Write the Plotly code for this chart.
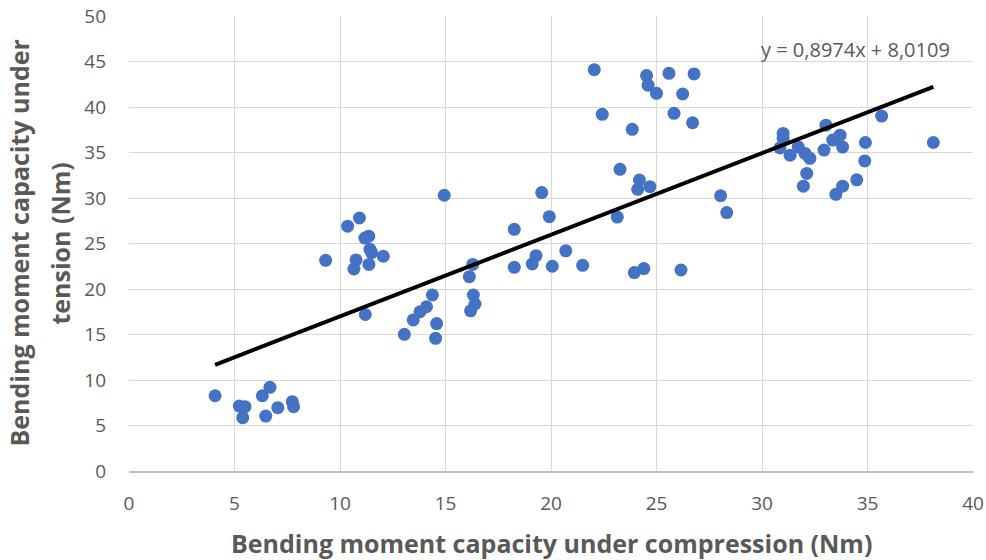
import plotly.graph_objects as go

# Data
compression = [4.08, 5.23, 5.50, 5.39, 6.32, 6.68, 6.48, 7.05, 7.74, 7.80,
               9.32, 10.36, 10.92, 10.76, 10.66, 11.18, 11.36, 11.42, 11.50, 11.37, 12.05, 11.20,
               13.05, 13.47, 13.79, 14.10, 14.38, 14.58, 14.53, 14.94,
               16.29, 16.13, 16.32, 16.40, 16.19, 18.26, 18.26, 19.11, 19.29, 19.56, 19.92, 20.06,
               20.70, 21.50, 22.05, 22.43, 23.14, 23.27, 23.85, 23.95, 24.40, 24.19, 24.11, 24.69,
               24.53, 24.60, 25.00, 25.59, 25.83, 26.24, 26.16, 26.78, 26.71, 28.04, 28.33,
               31.00, 31.00, 30.85, 31.33, 31.72, 32.04, 32.27, 32.12, 31.96, 33.03, 32.94,
               33.35, 33.70, 33.82, 33.50, 33.82, 34.49, 34.90, 34.87, 35.67, 38.12]
tension = [8.27, 7.14, 7.07, 5.86, 8.27, 9.20, 6.04, 6.96, 7.62, 7.07,
           23.15, 26.90, 27.80, 23.19, 22.20, 25.60, 25.80, 24.36, 24.00, 22.70, 23.60, 17.20,
           15.02, 16.60, 17.50, 18.05, 19.34, 16.20, 14.58, 30.30,
           22.70, 21.35, 19.34, 18.35, 17.60, 26.56, 22.38, 22.75, 23.66, 30.60, 27.95, 22.50,
           24.20, 22.60, 44.10, 39.20, 27.90, 33.15, 37.55, 21.80, 22.25, 31.98, 30.95, 31.25,
           43.45, 42.40, 41.50, 43.70, 39.30, 41.43, 22.09, 43.63, 38.27, 30.25, 28.40,
           37.10, 36.56, 35.50, 34.70, 35.60, 34.90, 34.36, 32.70, 31.30, 38.00, 35.27,
           36.37, 36.90, 35.60, 30.40, 31.30, 32.00, 36.10, 34.07, 39.00, 36.10]

slope = 0.8974
intercept = 8.0109
x_ticks = [0, 5, 10, 15, 20, 25, 30, 35, 40]
y_ticks = [0, 5, 10, 15, 20, 25, 30, 35, 40, 45, 50]
x_title = "Bending moment capacity under compression (Nm)"
y_title_lines = ["Bending moment capacity under", "tension (Nm)"]
equation = "y = 0,8974x + 8,0109"

trend_x = [min(compression), max(compression)]
trend_y = [slope * v + intercept for v in trend_x]

FONT = "Open Sans, sans-serif"
GREY = "#595959"

fig = go.Figure()
fig.add_trace(go.Scatter(
    x=compression, y=tension, mode="markers",
    marker=dict(color="#4472C4", size=13, line=dict(width=0)),
    showlegend=False, hoverinfo="x+y"))
fig.add_trace(go.Scatter(
    x=trend_x, y=trend_y, mode="lines",
    line=dict(color="black", width=4),
    showlegend=False, hoverinfo="skip"))

# trendline equation label
fig.add_annotation(
    x=max(compression), y=slope * max(compression) + intercept,
    xref="x", yref="y", text=equation,
    showarrow=False, xanchor="right", yanchor="bottom", xshift=19, yshift=22,
    font=dict(family=FONT, size=20, color=GREY))

# x-axis title
fig.add_annotation(
    x=0.5, y=0, xref="paper", yref="paper", text="<b>" + x_title + "</b>",
    showarrow=False, xanchor="center", yanchor="middle", yshift=-72,
    font=dict(family=FONT, size=25, color=GREY))

# y-axis title (two lines)
for line, shift in zip(y_title_lines, [-111, -70]):
    fig.add_annotation(
        x=0, y=0.5, xref="paper", yref="paper", text="<b>" + line + "</b>",
        showarrow=False, textangle=-90, xanchor="center", yanchor="middle", xshift=shift,
        font=dict(family=FONT, size=25, color=GREY))

fig.update_layout(
    width=986, height=560,
    margin=dict(l=129, r=13, t=16, b=89),
    paper_bgcolor="white", plot_bgcolor="white",
    font=dict(family=FONT, color=GREY),
    xaxis=dict(
        range=[0, 40], tickvals=x_ticks, showgrid=True, gridcolor="#d9d9d9", gridwidth=1,
        zeroline=False, showline=True, linecolor="#bfbfbf", linewidth=1.5, automargin=False,
        ticks="", tickfont=dict(size=19, color=GREY, family=FONT), ticklabelstandoff=14),
    yaxis=dict(
        range=[0, 50], tickvals=y_ticks, showgrid=True, gridcolor="#d9d9d9", gridwidth=1,
        zeroline=False, showline=False, ticks="", automargin=False,
        tickfont=dict(size=19, color=GREY, family=FONT), ticklabelstandoff=22),
)

fig.write_html("out.html")
